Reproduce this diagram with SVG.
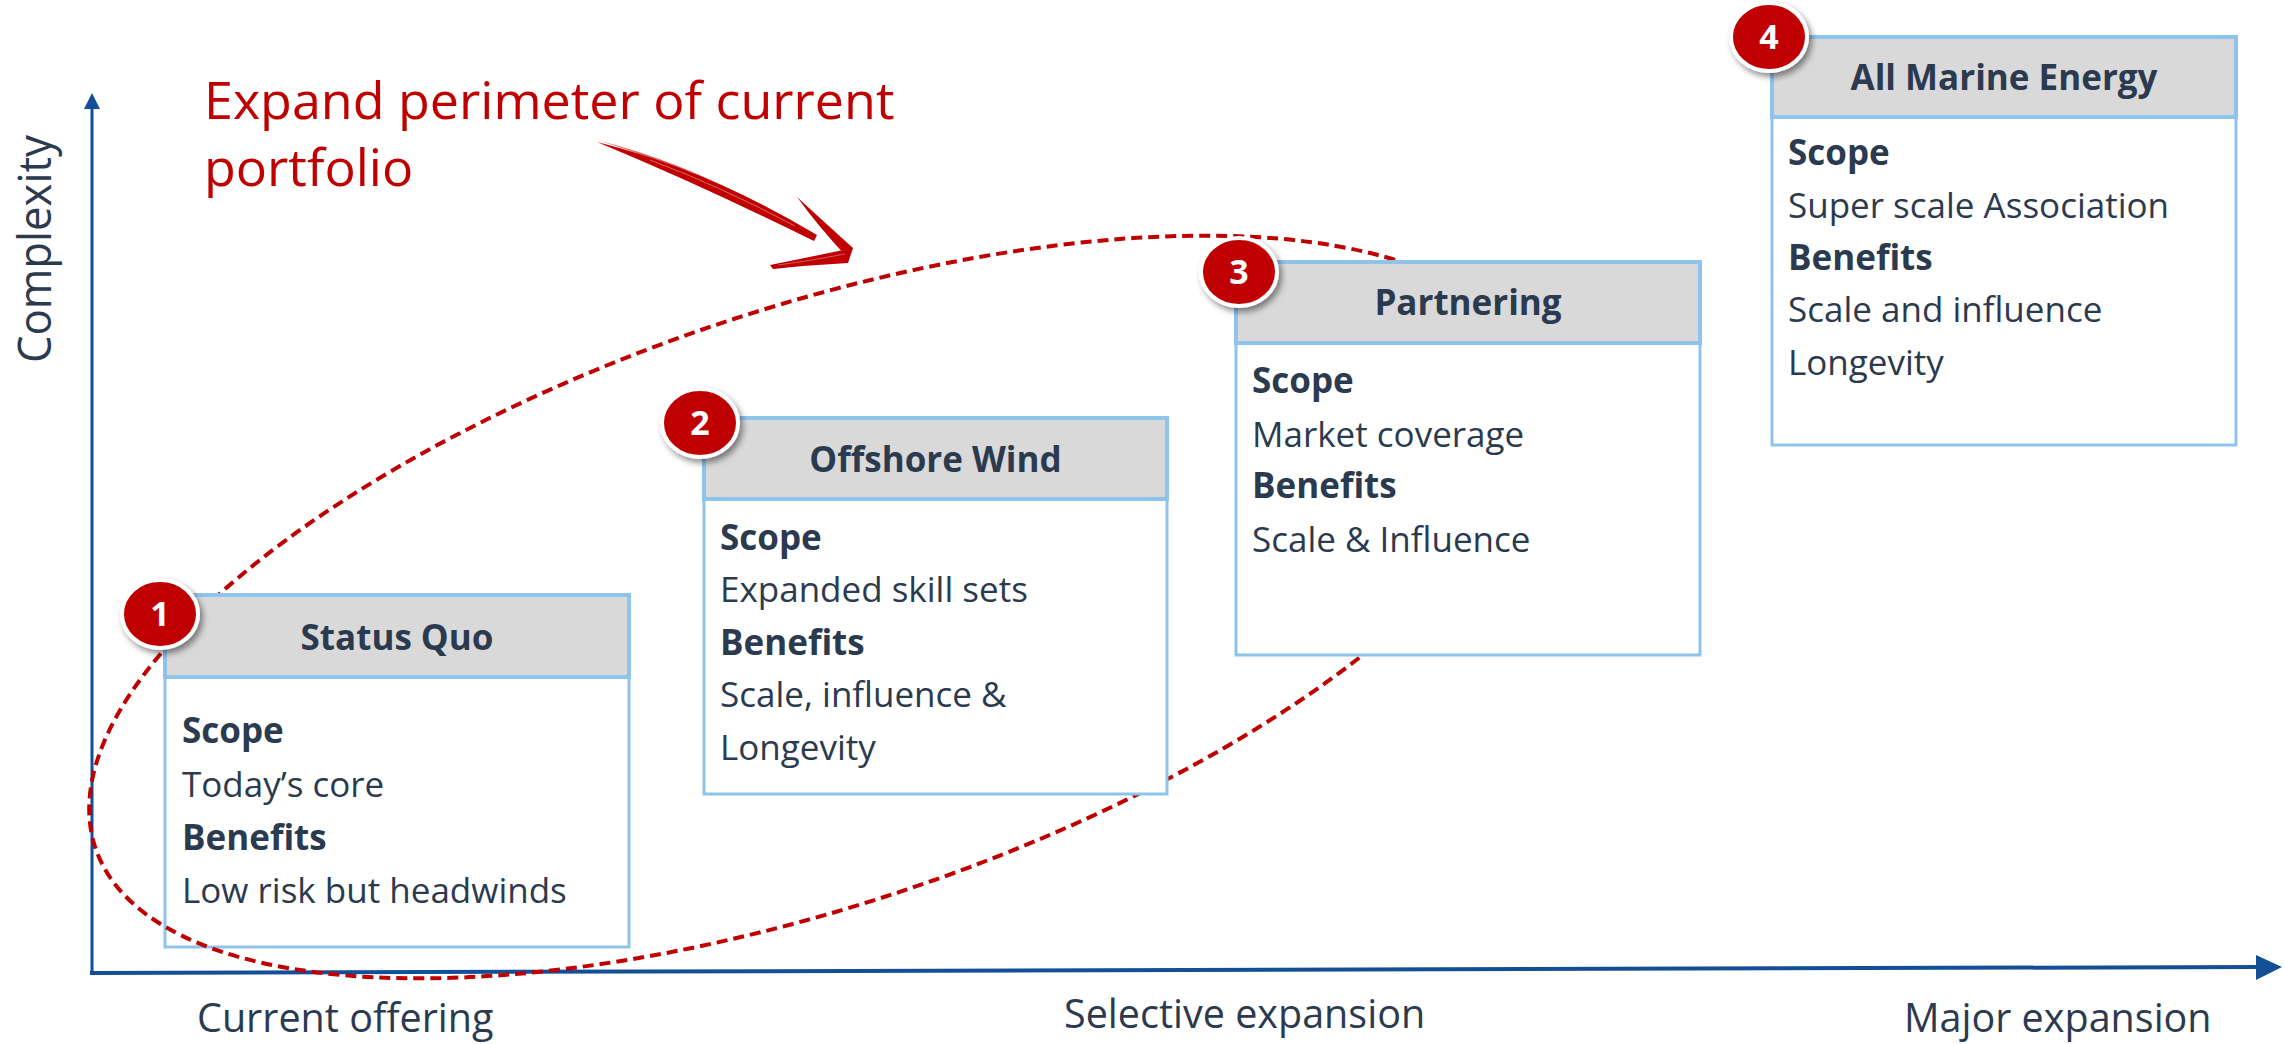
<svg xmlns="http://www.w3.org/2000/svg" width="2285" height="1044" viewBox="0 0 2285 1044">
<defs>
<style>
.t{font-family:"Open Sans","Noto Sans","DejaVu Sans",sans-serif;fill:#2b3a4e}
.b{font-weight:700}
.body{font-size:35px}
.hdr{font-size:35px;font-weight:700;text-anchor:middle}
.axl{font-size:39.5px}
.box{fill:#ffffff;stroke:#8ec3ea;stroke-width:3}
.boxh{fill:#d9d9d9;stroke:#8ec3ea;stroke-width:4}
.badge{fill:#c00000;stroke:#ffffff;stroke-width:4}
.num{font-family:"Open Sans","Noto Sans","DejaVu Sans",sans-serif;font-weight:700;font-size:34px;fill:#ffffff;text-anchor:middle}
.axis{stroke:#134f97;fill:none}
.red{fill:#c00000}
</style>
<filter id="sh" x="-40%" y="-40%" width="180%" height="180%">
<feDropShadow dx="3" dy="4" stdDeviation="3" flood-color="#000" flood-opacity="0.45"/>
</filter>
</defs>
<rect width="2285" height="1044" fill="#ffffff"/>

<g id="axes">
<line class="axis" x1="92" y1="973" x2="92" y2="106" stroke-width="3"/>
<polygon points="92,93 100,109 84,109" fill="#134f97"/>
<line class="axis" x1="90" y1="973" x2="2258" y2="967" stroke-width="4"/>
<polygon points="2282,967 2256,955 2256,980" fill="#134f97"/>
<text class="t" font-size="46" textLength="228" lengthAdjust="spacingAndGlyphs" transform="translate(51,363) rotate(-90)">Complexity</text>
<text class="t axl" x="197" y="1032">Current offering</text>
<text class="t axl" x="1064" y="1028">Selective expansion</text>
<text class="t axl" x="1904" y="1032">Major expansion</text>
</g>

<g id="title">
<text font-family="'Open Sans','Noto Sans','DejaVu Sans',sans-serif" font-size="52" fill="#c00000" x="204" y="119">Expand perimeter of current</text>
<text font-family="'Open Sans','Noto Sans','DejaVu Sans',sans-serif" font-size="52" fill="#c00000" x="204" y="186">portfolio</text>
</g>

<g id="node1">
<rect x="165" y="677" width="464" height="270" fill="none" stroke="#8ec3ea" stroke-width="3"/>
</g>

<g id="connectors">
<ellipse cx="812" cy="607" rx="756" ry="298" transform="rotate(-18.6 812 607)" fill="none" stroke="#c00000" stroke-width="4" stroke-dasharray="11 6"/>
<g id="hand-arrow">
<path class="red" d="M597,142 Q709,170 817,235 L814,241 Q703,186 597,142 Z"/>
<path class="red" d="M600,141 Q690,163 790,221 L788,223 Q690,168 600,141 Z" opacity="0.6"/>
<path d="M650,160 Q720,186 795,226" fill="none" stroke="#ffffff" stroke-width="0.8" opacity="0.5"/>
<path class="red" d="M797,197 Q822,220 853,248 L846,256 Q818,226 797,197 Z"/>
<path class="red" d="M853,248 L848,263 Q810,265 773,269 L770,265 Q810,257 853,248 Z"/>
<path d="M845,254 Q810,261 778,265" fill="none" stroke="#ffffff" stroke-width="0.7" opacity="0.5"/>
</g>
</g>

<g id="node1-top">
<rect class="boxh" x="165" y="595" width="464" height="82"/>
<text class="t hdr" x="397" y="650">Status Quo</text>
<text class="t body b" x="182" y="743">Scope</text>
<text class="t body" x="182" y="797">Today’s core</text>
<text class="t body b" x="182" y="850">Benefits</text>
<text class="t body" x="182" y="903">Low risk but headwinds</text>
<ellipse class="badge" cx="160" cy="614" rx="38" ry="34" filter="url(#sh)"/>
<text class="num" x="160" y="626">1</text>
</g>

<g id="node2">
<rect class="box" x="704" y="499" width="463" height="295"/>
<rect class="boxh" x="704" y="418" width="463" height="81"/>
<text class="t hdr" x="935.5" y="472">Offshore Wind</text>
<text class="t body b" x="720" y="550">Scope</text>
<text class="t body" x="720" y="602">Expanded skill sets</text>
<text class="t body b" x="720" y="655">Benefits</text>
<text class="t body" x="720" y="707">Scale, influence &amp;</text>
<text class="t body" x="720" y="760">Longevity</text>
<ellipse class="badge" cx="700" cy="423" rx="38" ry="34" filter="url(#sh)"/>
<text class="num" x="700" y="435">2</text>
</g>

<g id="node3">
<rect class="box" x="1236" y="343" width="464" height="312"/>
<rect class="boxh" x="1236" y="262" width="464" height="81"/>
<text class="t hdr" x="1468" y="315">Partnering</text>
<text class="t body b" x="1252" y="393">Scope</text>
<text class="t body" x="1252" y="447">Market coverage</text>
<text class="t body b" x="1252" y="498">Benefits</text>
<text class="t body" x="1252" y="552">Scale &amp; Influence</text>
<ellipse class="badge" cx="1239" cy="272" rx="38" ry="34" filter="url(#sh)"/>
<text class="num" x="1239" y="284">3</text>
</g>

<g id="node4">
<rect class="box" x="1772" y="117" width="464" height="328"/>
<rect class="boxh" x="1772" y="37" width="464" height="80"/>
<text class="t hdr" x="2004" y="90">All Marine Energy</text>
<text class="t body b" x="1788" y="165">Scope</text>
<text class="t body" x="1788" y="218">Super scale Association</text>
<text class="t body b" x="1788" y="270">Benefits</text>
<text class="t body" x="1788" y="322">Scale and influence</text>
<text class="t body" x="1788" y="375">Longevity</text>
<ellipse class="badge" cx="1769" cy="37" rx="38" ry="34" filter="url(#sh)"/>
<text class="num" x="1769" y="49">4</text>
</g>
</svg>
